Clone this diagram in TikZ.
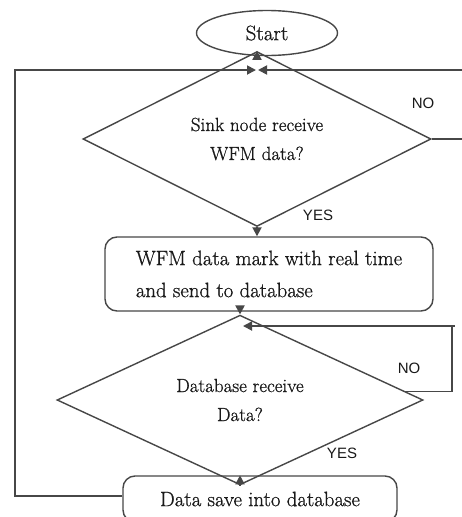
\documentclass[tikz,border=0pt]{standalone}
\usepackage{fontspec}
\newfontfamily\labelfont{Liberation Sans}
\newfontfamily\bodyfont{Latin Modern Roman}[FakeBold=0.8]
\usetikzlibrary{shapes.geometric,arrows.meta,calc}
\begin{document}
\begin{tikzpicture}[x=1pt,y=-1pt,
  line width=1.8pt,
  lc/.style={draw=black!72},
  arr/.style={lc,-{Triangle[length=9pt,width=9pt]}},
  startnode/.style={ellipse,lc,line width=1.4pt,minimum width=141pt,minimum height=45pt,inner sep=0pt,
    text=black!90,font=\bodyfont\fontsize{21}{25}\selectfont},
  decision/.style={diamond,lc,line width=1.4pt,inner sep=0pt,align=center,text=black!90,
    font=\bodyfont\fontsize{19}{29}\selectfont},
  process/.style={rectangle,rounded corners=12pt,lc,line width=1.4pt,inner sep=0pt,text=black!90,
    font=\bodyfont\fontsize{20.8}{32}\selectfont},
  lbl/.style={text=black!90,font=\labelfont\fontsize{15}{18}\selectfont,inner sep=0pt}
]
\useasboundingbox (0,0) rectangle (462,517);
\fill[white] (0,0) rectangle (462,517);

\node[startnode] (start) at (267,33) {Start};
\node[decision,minimum width=348pt,minimum height=106pt] (d1) at (257,139)
  {Sink node receive\\WFM data?};
\node[process,minimum width=328pt,minimum height=74pt,align=left] (box1) at (269,274)
  {WFM data mark with real time\\and send to database};
\node[decision,minimum width=366pt,minimum height=112pt] (d2) at (240,400)
  {Database receive\\Data?};
\node[process,minimum width=274pt,minimum height=46pt] (box2) at (260,499)
  {Data save into database};

\node[lbl] (no1) at (423,103) {NO};
\node[lbl] (yes1) at (318,215) {YES};
\node[lbl] (no2) at (409,368) {NO};
\node[lbl] (yes2) at (342,453) {YES};

\coordinate (J) at (d1.north |- 0,70);
\coordinate (L) at (15,70);
\coordinate (R) at (464,70);
\coordinate (R2) at (452,326);
\coordinate (P) at ($(d2.north)!0.9!(d2.east)$);

% main flow
\draw[arr] (d1.north |- start.south) -- (d1.north);
\draw[arr] (d1.south) -- (d1.south |- box1.north);
\draw[arr] (d2.north |- box1.south) -- (d2.north);
\draw[arr] (d2.south) -- (d2.south |- box2.north);

% loops
\draw[arr,shorten >=1pt] (box2.west |- 0,496) -| (L) -- (J);
\draw[arr,shorten >=1pt] (d1.east) -| (R) -- (J);
\draw[arr,shorten >=3pt] (P) -| (R2) -- (d2.north |- R2);
\draw[lc] (R2) -- ++(3,0);
\end{tikzpicture}
\end{document}
